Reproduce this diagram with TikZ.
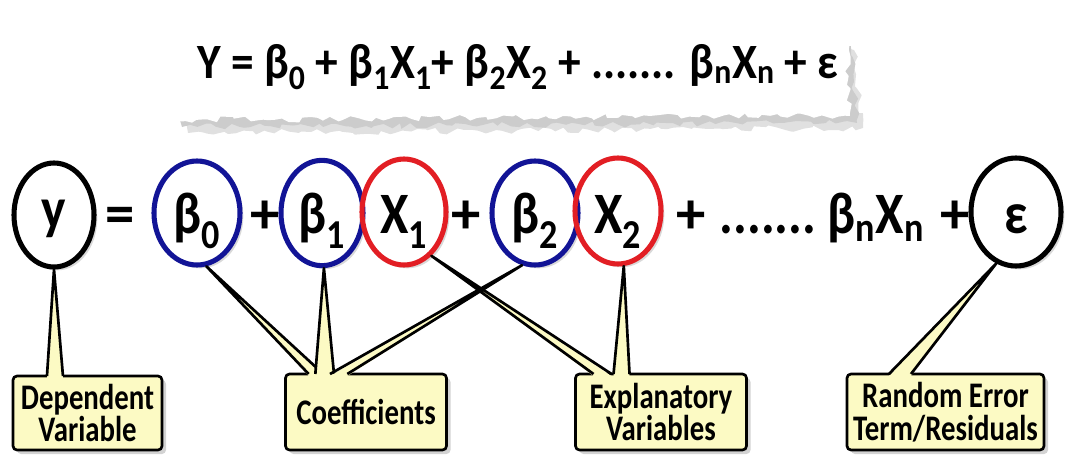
\documentclass[tikz,border=0pt]{standalone}
\usepackage{fontspec}
\setmainfont{Carlito}
\usetikzlibrary{shapes.geometric,shadows,decorations.pathmorphing}
\definecolor{cblue}{RGB}{18,20,150}
\definecolor{cred}{RGB}{226,30,36}
\definecolor{note}{RGB}{252,250,196}
\newcommand{\sbx}[1]{\textsubscript{#1}}
\newcommand{\nrw}[1]{\scalebox{0.88}[1]{#1}}
\newcommand{\nrt}[1]{\scalebox{0.92}[1]{#1}}
\newcommand{\nrb}[1]{\scalebox{0.8}[1]{#1}}
\tikzset{
  bigfont/.style={font=\bfseries\fontsize{44}{48}\selectfont},
  ring/.style={ellipse, line width=3.8pt, inner sep=0pt, bigfont},
  halo/.style={ellipse, inner sep=0pt, fill=white, drop shadow={shadow xshift=2.5pt, shadow yshift=-2.5pt, opacity=0.3}},
  term/.style={bigfont, inner sep=0pt, anchor=base},
  callout/.style={draw, line width=2pt, rounded corners=3pt, fill=note, align=center, inner sep=0pt,
     font=\bfseries\fontsize{27}{24.5}\selectfont, drop shadow={shadow xshift=3pt, shadow yshift=-3pt, opacity=0.35}},
  wedgefill/.style={fill=note},
  wedgeline/.style={draw=black, line width=2pt, line join=round},
  tear/.style={decorate, decoration={random steps, segment length=5pt, amplitude=2.5pt}},
}
\begin{document}
\begin{tikzpicture}[x=0.75pt,y=-0.75pt]
\useasboundingbox (0,0) rectangle (1068,454);
% torn paper
\fill[black!12, tear] (184,70) -- (854,50) -- (863,128) -- (188,133) -- cycle;
\fill[black!20, tear] (180,66) -- (851,46) -- (857,123) -- (182,127) -- cycle;
\fill[white, tear] (168,27) -- (846,18) -- (850,116) -- (172,120) -- cycle;
\node[term, font=\bfseries\fontsize{37}{40}\selectfont] (eq) at (518,78)
  {\nrt{Y = β\sbx{0} + β\sbx{1}X\sbx{1}+ β\sbx{2}X\sbx{2} + ....... β\sbx{n}X\sbx{n} + ε}};
% halos behind the rings
\path (54,215) node[halo, minimum width=60pt, minimum height=78pt] {};
\path (197,213) node[halo, minimum width=64.5pt, minimum height=78pt] {};
\path (322,213) node[halo, minimum width=61.5pt, minimum height=79pt] {};
\path (404,212) node[halo, minimum width=63pt, minimum height=79.5pt] {};
\path (535,213) node[halo, minimum width=64.5pt, minimum height=78pt] {};
\path (618,211) node[halo, minimum width=64.5pt, minimum height=79.5pt] {};
\path (1016,212) node[halo, minimum width=67.5pt, minimum height=81pt] {};
% callout boxes
\node[callout, minimum width=111.75pt, minimum height=55.5pt] (dep) at (87.5,413) {\nrb{Dependent}\\\nrb{Variable}};
\node[callout, minimum width=120.75pt, minimum height=57pt] (coef) at (366,412) {\nrb{Coefficients}};
\node[callout, minimum width=128.25pt, minimum height=57pt] (expl) at (661,412) {\nrb{Explanatory}\\\nrb{Variables}};
\node[callout, minimum width=147.75pt, minimum height=57pt] (rnd) at (945.5,412) {\nrb{Random Error}\\\nrb{Term/Residuals}};
% ring nodes
\node[ring, draw=black, minimum width=60pt, minimum height=78pt] (cy) at (54,215) {};
\node[ring, draw=cblue, minimum width=64.5pt, minimum height=78pt] (cb0) at (197,213) {};
\node[ring, draw=cblue, minimum width=61.5pt, minimum height=79pt] (cb1) at (322,213) {};
\node[ring, draw=cred, minimum width=63pt, minimum height=79.5pt] (cx1) at (404,212) {};
\node[ring, draw=cblue, minimum width=64.5pt, minimum height=78pt] (cb2) at (535,213) {};
\node[ring, draw=cred, minimum width=64.5pt, minimum height=79.5pt] (cx2) at (618,211) {};
\node[ring, draw=black, minimum width=67.5pt, minimum height=81pt] (ce) at (1016,212) {};
% callout pointers (wedges)
\fill[wedgefill] (cy.south) -- ([xshift=-30.4pt,yshift=-2.5pt]dep.north) -- ([xshift=-18.4pt,yshift=-2.5pt]dep.north) -- cycle;
\draw[wedgeline] ([xshift=-30.4pt,yshift=-1pt]dep.north) -- (cy.south) -- ([xshift=-18.4pt,yshift=-1pt]dep.north);
\fill[wedgefill] (cb0.-80) -- ([xshift=-43pt,yshift=-2.5pt]coef.north) -- ([xshift=-32pt,yshift=-2.5pt]coef.north) -- cycle;
\draw[wedgeline] ([xshift=-43pt,yshift=-1pt]coef.north) -- (cb0.-80) -- ([xshift=-32pt,yshift=-1pt]coef.north);
\fill[wedgefill] (cb1.-88) -- ([xshift=-38pt,yshift=-2.5pt]coef.north) -- ([xshift=-24pt,yshift=-2.5pt]coef.north) -- cycle;
\draw[wedgeline] ([xshift=-38pt,yshift=-1pt]coef.north) -- (cb1.-88) -- ([xshift=-24pt,yshift=-1pt]coef.north);
\fill[wedgefill] (cx1.-58) -- ([xshift=-50.6pt,yshift=-2.5pt]expl.north) -- ([xshift=-37.1pt,yshift=-2.5pt]expl.north) -- cycle;
\draw[wedgeline] ([xshift=-50.6pt,yshift=-1pt]expl.north) -- (cx1.-58) -- ([xshift=-37.1pt,yshift=-1pt]expl.north);
\fill[wedgefill] (cb2.-104) -- ([xshift=-27pt,yshift=-2.5pt]coef.north) -- ([xshift=-14pt,yshift=-2.5pt]coef.north) -- cycle;
\draw[wedgeline] ([xshift=-27pt,yshift=-1pt]coef.north) -- (cb2.-104) -- ([xshift=-14pt,yshift=-1pt]coef.north);
\fill[wedgefill] (cx2.-84) -- ([xshift=-35.6pt,yshift=-2.5pt]expl.north) -- ([xshift=-23.6pt,yshift=-2.5pt]expl.north) -- cycle;
\draw[wedgeline] ([xshift=-35.6pt,yshift=-1pt]expl.north) -- (cx2.-84) -- ([xshift=-23.6pt,yshift=-1pt]expl.north);
\fill[wedgefill] (ce.-111) -- ([xshift=-42.4pt,yshift=-2.5pt]rnd.north) -- ([xshift=-25.9pt,yshift=-2.5pt]rnd.north) -- cycle;
\draw[wedgeline] ([xshift=-42.4pt,yshift=-1pt]rnd.north) -- (ce.-111) -- ([xshift=-25.9pt,yshift=-1pt]rnd.north);
% ring texts and equation terms
\node[term] at (54,228) {\nrw{y}};
\node[term] at (197,233) {\nrw{β\sbx{0}}};
\node[term] at (322,233) {\nrw{β\sbx{1}}};
\node[term] at (404,233) {\nrw{X\sbx{1}}};
\node[term] at (535,233) {\nrw{β\sbx{2}}};
\node[term] at (618,233) {\nrw{X\sbx{2}}};
\node[term] at (1016,233) {\nrw{ε}};
\node[term] (eqs) at (120,233) {=};
\node[term] (p1) at (265,233) {+};
\node[term] (p2) at (466,233) {+};
\node[term] (p3) at (691,233) {+};
\node[term] (dots) at (768,233) {\nrw{.......}};
\node[term] (bnxn) at (876,233) {\nrw{β\sbx{n}X\sbx{n}}};
\node[term] (p4) at (955,233) {+};
\end{tikzpicture}
\end{document}
